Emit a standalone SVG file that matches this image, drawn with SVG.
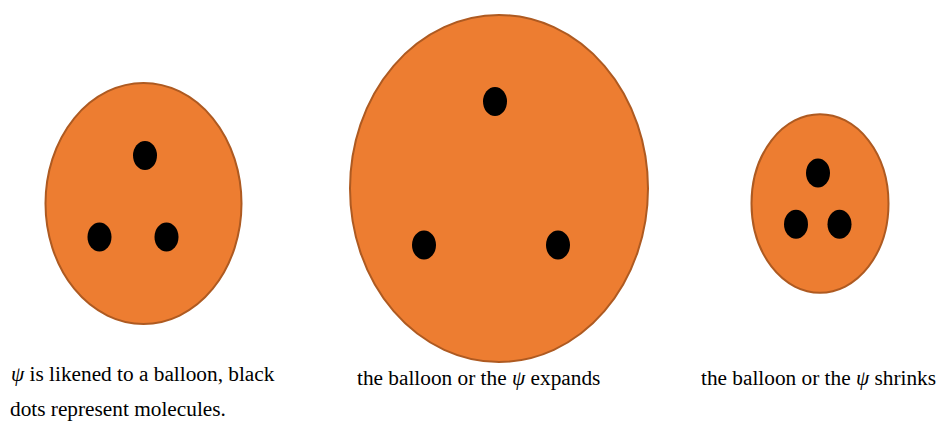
<svg xmlns="http://www.w3.org/2000/svg" width="939" height="424" viewBox="0 0 939 424">
<style>
.balloon{fill:#ED7D31;stroke:#AE5A21;stroke-width:2}
.dot{fill:#000}
.t{font-family:"Liberation Serif","Times New Roman",serif;font-size:21.3px;fill:#000}
.psi{font-style:italic}
</style>
<rect width="939" height="424" fill="#fff"/>
<g id="balloon-normal">
<ellipse class="balloon" cx="143.5" cy="203.5" rx="98" ry="120.5"/>
<ellipse class="dot" cx="145" cy="155.5" rx="12" ry="14.5"/>
<ellipse class="dot" cx="99.5" cy="237" rx="12" ry="14.5"/>
<ellipse class="dot" cx="166.5" cy="237" rx="12" ry="14.5"/>
</g>
<g id="balloon-expanded">
<ellipse class="balloon" cx="499" cy="188.5" rx="149" ry="173.5"/>
<ellipse class="dot" cx="495" cy="101.5" rx="12" ry="14.5"/>
<ellipse class="dot" cx="424" cy="245" rx="12" ry="14.5"/>
<ellipse class="dot" cx="558" cy="245" rx="12" ry="14.5"/>
</g>
<g id="balloon-shrunk">
<ellipse class="balloon" cx="820" cy="203.5" rx="68.5" ry="89.3"/>
<ellipse class="dot" cx="818" cy="173" rx="12" ry="14.5"/>
<ellipse class="dot" cx="796" cy="224.3" rx="12" ry="14.5"/>
<ellipse class="dot" cx="839.5" cy="224.3" rx="12" ry="14.5"/>
</g>
<g id="labels">
<text class="t" x="11" y="381"><tspan class="psi">ψ</tspan> is likened to a balloon, black</text>
<text class="t" x="10" y="416">dots represent molecules.</text>
<text class="t" x="357" y="385">the balloon or the <tspan class="psi">ψ</tspan> expands</text>
<text class="t" x="701" y="385">the balloon or the <tspan class="psi">ψ</tspan> shrinks</text>
</g>
</svg>
